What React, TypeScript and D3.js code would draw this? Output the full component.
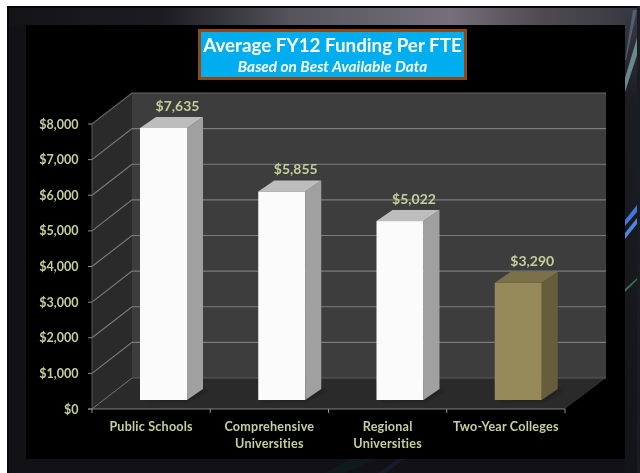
import React from "react";
import * as d3 from "d3";

const categories = ["Public Schools", "Comprehensive|Universities", "Regional|Universities", "Two-Year Colleges"];
const values = [7635, 5855, 5022, 3290];
const valueLabels = ["$7,635", "$5,855", "$5,022", "$3,290"];
const barColors = [
  { front: "#fbfbfb", side: "#a0a0a0", top: "#bdbdbd" },
  { front: "#fbfbfb", side: "#a0a0a0", top: "#bdbdbd" },
  { front: "#fbfbfb", side: "#a0a0a0", top: "#bdbdbd" },
  { front: "#96895a", side: "#665d3b", top: "#7b7049" },
];
const yTicks = [0, 1000, 2000, 3000, 4000, 5000, 6000, 7000, 8000];
const gridlineTicks = yTicks.slice(1);

const W = 640, H = 473;
const x = d3.scaleBand<string>().domain(categories).range([92, 565]);
const y = d3.scaleLinear().domain([0, 8000]).range([409, 124]);
const fmt = d3.format("$,");
const wallDx = 40, wallDy = 31;
const barInset = 48, barW = 47, barLift = 9, barDx = 16, barDy = 11;
const labelFill = "#c3d09b";
const font = "Lato, Carlito, 'Noto Sans', sans-serif";
const pts = (a: number[][]) => a.map((p) => p.join(",")).join(" ");

const Streaks = () => (
  <g>
    <polygon points="633,10 637,10 626,60 625,60" fill="#5d6f92" opacity="0.7" />
    <polygon points="637,38 637,55 625,92 625,78" fill="#7fa9ad" opacity="0.75" />
    <polygon points="637,205 637,212 625,226 625,220" fill="#3f78d8" />
    <polygon points="637,218 637,224 625,239 625,233" fill="#4c86e0" />
    <polygon points="637,278 637,280 625,292 625,289" fill="#3f6f45" />
    <polygon points="350,459 375,459 345,473 325,473" fill="#0f1a1a" />
    <polygon points="398,459 405,459 385,473 378,473" fill="#171a2a" />
  </g>
);

export default function App() {
  const x0 = x.range()[0], x1 = x.range()[1];
  const y0 = y(0), yTop = y(8000);
  return (
    <svg width={W} height={H} viewBox={`0 0 ${W} ${H}`} style={{ position: "absolute", left: 0, top: 0, background: "#fff" }}>
      <defs>
        <linearGradient id="band" x1="0" x2="1" y1="0" y2="0">
          <stop offset="0" stopColor="#131318" />
          <stop offset="0.25" stopColor="#1c1c22" />
          <stop offset="0.45" stopColor="#55545c" />
          <stop offset="0.7" stopColor="#75707b" />
          <stop offset="0.85" stopColor="#4e4a50" />
          <stop offset="0.97" stopColor="#3b3d44" />
          <stop offset="1" stopColor="#2c3040" />
        </linearGradient>
        <linearGradient id="side" x1="0" x2="0" y1="0" y2="1">
          <stop offset="0" stopColor="#3a3b42" />
          <stop offset="0.2" stopColor="#1c1c22" />
          <stop offset="1" stopColor="#13131a" />
        </linearGradient>
        <filter id="soft"><feGaussianBlur stdDeviation="0.4" /></filter>
        <filter id="shadow"><feGaussianBlur stdDeviation="3" /></filter>
      </defs>

      <rect x={7} y={6} width={631} height={467} fill="#060608" />
      <rect x={9} y={8} width={628} height={465} fill="#121216" />
      <rect x={9} y={8} width={628} height={18} fill="url(#band)" />
      <rect x={625} y={8} width={12} height={465} fill="url(#side)" />
      <Streaks />
      <rect x={637} y={6} width={3} height={467} fill="#1a1c24" />
      <rect x={26} y={25} width={599} height={434} fill="#000" />

      <g filter="url(#soft)">
        {/* walls */}
        <polygon points={pts([[x0, y0], [x0 + wallDx, y0 - wallDy], [x0 + wallDx, yTop - wallDy], [x0, yTop]])} fill="#2a2a2a" />
        <rect x={x0 + wallDx} y={yTop - wallDy} width={x1 + 1 - x0} height={y0 - yTop} fill="#3d3d3d" />
        <polygon points={pts([[x0, y0], [x1, y0], [x1 + wallDx + 1, y0 - wallDy], [x0 + wallDx, y0 - wallDy]])} fill="#2c2c2c" />

        {/* gridlines */}
        {gridlineTicks.map((t) => (
          <polyline key={t} fill="none" stroke={t === 8000 ? "#666" : "#7c7c7c"} strokeWidth={1.1}
            points={pts([[x0, y(t)], [x0 + wallDx, y(t) - wallDy], [x1 + wallDx + 1, y(t) - wallDy]])} />
        ))}
        <line x1={x0} y1={y0} x2={x0 + wallDx} y2={y0 - wallDy} stroke="#777" />
        <line x1={x0 + wallDx} y1={y0 - wallDy} x2={x1 + wallDx + 1} y2={y0 - wallDy} stroke="#5a5a5a" />

        {/* axes */}
        <line x1={x0} y1={yTop} x2={x0} y2={y0} stroke="#555" />
        <line x1={x0 - 4} y1={y0} x2={x1} y2={y0} stroke="#808080" />
        {yTicks.map((t) => (
          <line key={t} x1={x0 - 4} x2={x0} y1={y(t)} y2={y(t)} stroke="#909090" />
        ))}
        {[...categories.map((c) => x(c)!), x1].map((tx, i) => (
          <line key={i} x1={tx} x2={tx} y1={y0} y2={y0 + 4} stroke="#909090" />
        ))}

        {/* bars */}
        {categories.map((c, i) => {
          const left = x(c)! + barInset;
          const right = left + barW;
          const base = y0 - barLift;
          const top = y(values[i]) - barLift;
          const col = barColors[i];
          return (
            <g key={c}>
              <polygon filter="url(#shadow)" fill="#000" opacity={0.35}
                points={pts([[left - 3, base + 1], [right, base + 1], [right + barDx + 8, base - barDy], [right, base - barDy]])} />
              <rect x={left} y={top} width={barW} height={base - top} fill={col.front} />
              <polygon points={pts([[right, top], [right + barDx, top - barDy], [right + barDx, base - barDy], [right, base]])} fill={col.side} />
              <polygon points={pts([[left, top], [left + barDx, top - barDy], [right + barDx, top - barDy], [right, top]])} fill={col.top} />
              <text x={left + barW / 2 + 14} y={top - barDy - 6} textAnchor="middle" fontFamily={font} fontWeight={700} fontSize={14} fill={labelFill}>
                {valueLabels[i]}
              </text>
            </g>
          );
        })}

        {/* tick labels */}
        {yTicks.map((t) => (
          <text key={t} x={78.5} y={y(t) + 4.5} textAnchor="end" fontFamily={font} fontWeight={700} fontSize={12.5} fill={labelFill}>
            {fmt(t)}
          </text>
        ))}
        {categories.map((c) =>
          c.split("|").map((line, j) => (
            <text key={line + c} x={x(c)! + x.bandwidth() / 2} y={431 + j * 17} textAnchor="middle" fontFamily={font} fontWeight={700} fontSize={12.6} letterSpacing={0.2} fill={labelFill}>
              {line}
            </text>
          ))
        )}

        {/* title */}
        <rect x={199.5} y={30.5} width={266} height={48} fill="#00aeef" stroke="#8f4a16" strokeWidth={3} />
        <text x={332.5} y={52} textAnchor="middle" fontFamily={font} fontWeight={700} fontSize={18.8} fill="#fff">
          Average FY12 Funding Per FTE
        </text>
        <text x={332.5} y={72} textAnchor="middle" fontFamily={font} fontWeight={700} fontStyle="italic" fontSize={15.4} fill="#fff">
          Based on Best Available Data
        </text>
      </g>
    </svg>
  );
}
